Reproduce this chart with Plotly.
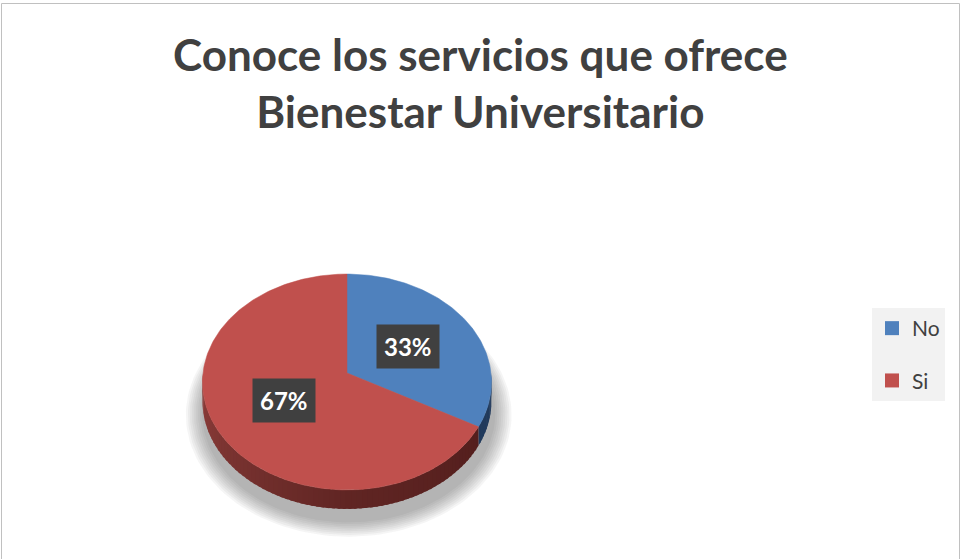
import math
import plotly.graph_objects as go

# Survey answers
labels = ["No", "Si"]
values = [33, 67]
top_colors = ["#4F81BD", "#C0504D"]
title_lines = ["Conoce los servicios que ofrece", "Bienestar Universitario"]

W, H = 961, 559
FONT = "Lato"

# pie geometry (pixels) and a light perspective for the tilted disc
CX, CY = 347, 373          # apex of the slices
R_PX = 144                 # horizontal radius
TILT = 0.7444              # vertical squash
PERSP = 0.0833             # back edge appears slightly smaller
DEPTH = 19 / R_PX          # thickness of the disc


def project(theta_deg, r=1.0, drop=0.0):
    """Angle measured clockwise from the back of the disc -> data coords."""
    th = math.radians(theta_deg)
    u, v = r * math.sin(th), r * math.cos(th)
    s = 1.0 / (1.0 + PERSP * v)
    return u * s, v * TILT * s - drop


def arc(a0, a1, drop=0.0, step=1.0):
    n = max(2, int(abs(a1 - a0) / step) + 1)
    pts = [project(a0 + (a1 - a0) * i / (n - 1), drop=drop) for i in range(n)]
    return [p[0] for p in pts], [p[1] for p in pts]


total = sum(values)
bounds = [0.0]
for v in values:
    bounds.append(bounds[-1] + 360.0 * v / total)

fig = go.Figure()

# soft shadow under the disc
for i in range(9):
    sc = 1.0 + 0.014 * (i + 1)
    xs, ys = [], []
    for k in range(181):
        x, y = project(2 * k, r=sc, drop=DEPTH + 0.08)
        xs.append(x + 0.012)
        ys.append(y)
    fig.add_trace(go.Scatter(x=xs, y=ys, mode="lines", fill="toself",
                             line=dict(width=0), fillcolor="rgba(80,80,80,0.055)",
                             hoverinfo="skip", showlegend=False))


def lerp(c0, c1, t):
    return tuple(int(round(a + (b - a) * t)) for a, b in zip(c0, c1))


def wall_color(idx, th):
    if idx == 0:
        return (33, 58, 92)
    left, mid, right = (142, 62, 59), (96, 37, 35), (78, 28, 27)
    if th >= 180:
        return lerp(mid, left, (th - 180) / 90)
    return lerp(right, mid, (th - 90) / 90)


# side wall of the front half, drawn as thin shaded strips that overlap a little
STEP = 2.0
for idx in range(len(values)):
    a0 = max(bounds[idx], 90.0)
    a1 = min(bounds[idx + 1], 270.0)
    if a1 <= a0:
        continue
    n = max(1, int(math.ceil((a1 - a0) / STEP)))
    for j in range(n):
        s0 = a0 + (a1 - a0) * j / n
        s1 = min(a1, a0 + (a1 - a0) * (j + 1) / n + 1.0)
        tx, ty = arc(s0, s1, step=0.5)
        bx, by = arc(s1, s0, drop=DEPTH, step=0.5)
        r, g, b = wall_color(idx, 0.5 * (s0 + s1))
        col = f"rgb({r},{g},{b})"
        fig.add_trace(go.Scatter(x=tx + bx + [tx[0]], y=ty + by + [ty[0]],
                                 mode="lines", fill="toself",
                                 line=dict(width=0), fillcolor=col,
                                 hoverinfo="skip", showlegend=False))

# top faces of the slices
for idx, (lab, val) in enumerate(zip(labels, values)):
    ax, ay = arc(bounds[idx], bounds[idx + 1])
    fig.add_trace(go.Scatter(x=[0] + ax + [0], y=[0] + ay + [0], mode="lines",
                             fill="toself", line=dict(width=0.5, color=top_colors[idx]),
                             fillcolor=top_colors[idx], name=lab,
                             hovertemplate=f"{lab}: {val}%<extra></extra>",
                             showlegend=False))

# legend entries
for idx, lab in enumerate(labels):
    fig.add_trace(go.Scatter(x=[None], y=[None], mode="markers", name=lab,
                             legendgroup=lab,
                             marker=dict(symbol="square", size=14, color=top_colors[idx])))

# percentage labels in dark boxes
for idx, val in enumerate(values):
    mid = 0.5 * (bounds[idx] + bounds[idx + 1])
    lx, ly = project(mid, r=0.5)
    txt = f"{round(100 * val / total)}%"
    fig.add_annotation(x=lx, y=ly, xref="x", yref="y", text=f"<b>{txt}</b>",
                       showarrow=False, bgcolor="#404040",
                       font=dict(family=FONT, size=24, color="white"),
                       borderpad=7)

# chart title
fig.add_annotation(x=481 / W, y=1 - 26 / H, xref="paper", yref="paper",
                   xanchor="center", yanchor="top", showarrow=False,
                   text="<b>" + "<br>".join(title_lines) + "</b>",
                   font=dict(family=FONT, size=44, color="#404040"))

x_range = [(0 - CX) / R_PX, (W - CX) / R_PX]
y_range = [(CY - H) / R_PX, (CY - 0) / R_PX]

fig.update_layout(
    width=W, height=H,
    margin=dict(l=0, r=0, t=0, b=0),
    paper_bgcolor="white", plot_bgcolor="white",
    xaxis=dict(range=x_range, visible=False, fixedrange=True),
    yaxis=dict(range=y_range, visible=False, fixedrange=True),
    legend=dict(x=872 / W, xanchor="left", y=1 - 308 / H, yanchor="top",
                bgcolor="#f2f2f2", tracegroupgap=22,
                font=dict(family=FONT, size=21, color="#404040"),
                itemwidth=30),
    shapes=[dict(type="rect", xref="paper", yref="paper",
                 x0=1.5 / W, x1=959.5 / W, y0=-0.02, y1=1 - 3.5 / H,
                 line=dict(color="#c0c0c0", width=1))],
)

fig.write_html("out.html")
